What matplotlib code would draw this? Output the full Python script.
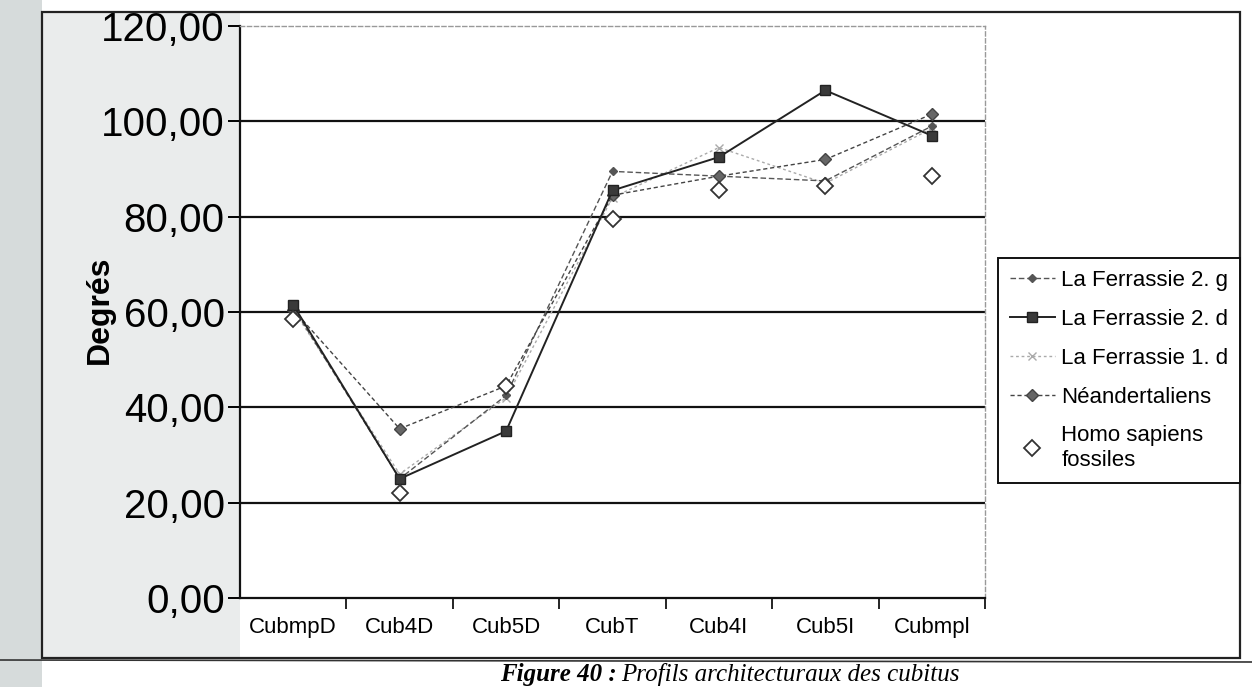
import matplotlib
matplotlib.use("Agg")
import matplotlib.pyplot as plt
from matplotlib.lines import Line2D
from matplotlib.patches import Rectangle

categories = ["CubmpD", "Cub4D", "Cub5D", "CubT", "Cub4I", "Cub5I", "CubmpI"]
tick_labels = ["CubmpD", "Cub4D", "Cub5D", "CubT", "Cub4I", "Cub5I", "Cubmpl"]
ferrassie_2g = [61.0, 25.0, 42.5, 89.5, 88.5, 87.5, 99.0]
ferrassie_2d = [61.5, 25.0, 35.0, 85.5, 92.5, 106.5, 97.0]
ferrassie_1d = [60.5, 26.0, 42.0, 84.0, 94.5, 87.0, 98.5]
neandertaliens = [60.5, 35.5, 44.5, 84.5, 88.5, 92.0, 101.5]
homo_sapiens = [58.5, 22.0, 44.5, 79.5, 85.5, 86.5, 88.5]
y_ticks = [0, 20, 40, 60, 80, 100, 120]
y_tick_labels = ["0,00", "20,00", "40,00", "60,00", "80,00", "100,00", "120,00"]

W, H = 1252, 687
fig = plt.figure(figsize=(W / 100, H / 100), dpi=100)
fig.patch.set_facecolor("white")

def fx(px):
    return px / W

def fy(py):
    return 1 - py / H

# scanned page background tints
fig.add_artist(Rectangle((0, 0), fx(42), 1, transform=fig.transFigure,
                         facecolor="#d6dbdb", edgecolor="none", zorder=0))
fig.add_artist(Rectangle((fx(42), fy(658)), fx(198), fy(12) - fy(658), transform=fig.transFigure,
                         facecolor="#eaecec", edgecolor="none", zorder=0))

# outer chart frame
fig.add_artist(Rectangle((fx(42), fy(658)), fx(1240 - 42), fy(12) - fy(658),
                         transform=fig.transFigure, facecolor="none",
                         edgecolor="#222222", lw=1.6, zorder=1))
fig.add_artist(Line2D([0, 1], [fy(660), fy(662)], transform=fig.transFigure,
                      color="#333333", lw=1.2))

ax = fig.add_axes([fx(240), fy(598), fx(985 - 240), fy(26) - fy(598)])
ax.set_facecolor("white")
x = list(range(len(categories)))

ax.plot(x, ferrassie_2g, color="#555555", lw=1.0, ls=(0, (4, 2)),
        marker="D", ms=4.5, mfc="#555555", mec="#555555", label="La Ferrassie 2. g", zorder=4)
ax.plot(x, ferrassie_2d, color="#222222", lw=1.4,
        marker="s", ms=7, mfc="#3a3a3a", mec="#222222", label="La Ferrassie 2. d", zorder=5)
ax.plot(x, ferrassie_1d, color="#aaaaaa", lw=1.0, ls=(0, (2, 2)),
        marker="x", ms=6, mec="#aaaaaa", label="La Ferrassie 1. d", zorder=3)
ax.plot(x, neandertaliens, color="#444444", lw=1.0, ls=(0, (3, 2)),
        marker="D", ms=6, mfc="#666666", mec="#444444", label="Néandertaliens", zorder=4)
ax.plot(x, homo_sapiens, ls="none", marker="D", ms=8, mfc="white", mec="#333333",
        mew=1.3, label="Homo sapiens\nfossiles", zorder=6)

ax.set_xlim(-0.5, len(categories) - 0.5)
ax.set_ylim(0, 120)
ax.set_yticks(y_ticks)
ax.set_yticklabels(y_tick_labels, fontsize=29, family=["Liberation Sans", "DejaVu Sans"])
ax.tick_params(axis="y", direction="out", length=9, width=1.4, pad=2)
for v in y_ticks[1:-1]:
    ax.axhline(v, color="#111111", lw=1.6, zorder=1)

ax.set_xticks([i - 0.5 for i in range(1, len(categories) + 1)], minor=False)
ax.set_xticklabels([])
ax.set_xticks(x, minor=True)
ax.set_xticklabels(tick_labels, minor=True, fontsize=16,
                   family=["Liberation Sans Narrow", "Liberation Sans", "DejaVu Sans"])
ax.tick_params(axis="x", which="major", direction="out", length=8, width=1.2)
ax.tick_params(axis="x", which="minor", length=0, pad=14)

for s in ["left", "bottom"]:
    ax.spines[s].set_color("#111111")
    ax.spines[s].set_linewidth(1.6)
for s in ["top", "right"]:
    ax.spines[s].set_color("#999999")
    ax.spines[s].set_linewidth(1.0)
    ax.spines[s].set_linestyle((0, (3, 2)))

fig.text(fx(100), fy(310), "Degrés", rotation=90, fontsize=23, fontweight="bold",
         ha="center", va="center", family=["Liberation Sans", "DejaVu Sans"])

handles, labels = ax.get_legend_handles_labels()
leg = fig.legend(handles, labels, loc="upper left",
                 bbox_to_anchor=(fx(998), fy(497), fx(1240 - 998), fy(258) - fy(497)),
                 bbox_transform=fig.transFigure, mode="expand",
                 prop={"family": ["Liberation Sans", "DejaVu Sans"], "size": 16},
                 frameon=True, fancybox=False, edgecolor="#111111", framealpha=1,
                 handlelength=2.0, handletextpad=0.3, borderpad=0.55, labelspacing=0.8,
                 borderaxespad=0)
leg.get_frame().set_linewidth(1.4)

fig.text(fx(500), fy(686), "Figure 40 : ", fontsize=18, fontweight="bold", style="italic",
         family=["Liberation Serif", "DejaVu Serif"], ha="left", va="bottom")
fig.text(fx(621), fy(686), "Profils architecturaux des cubitus", fontsize=18, style="italic",
         family=["Liberation Serif", "DejaVu Serif"], ha="left", va="bottom")

fig.savefig("out.png", dpi=100)
